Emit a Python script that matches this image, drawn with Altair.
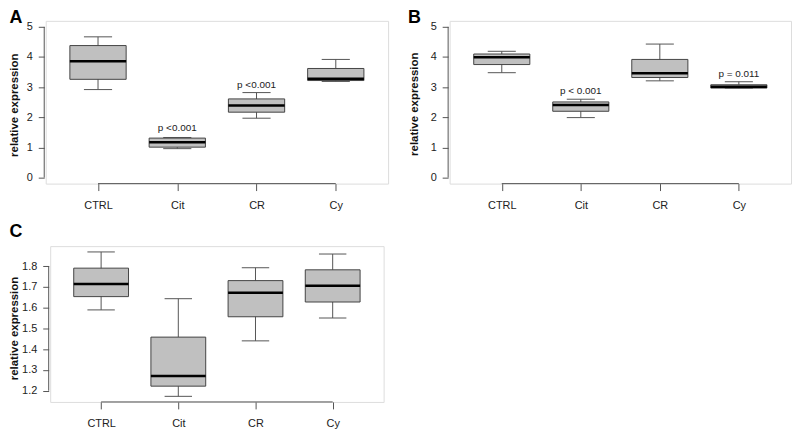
import altair as alt
import pandas as pd

categories = ["CTRL", "Cit", "CR", "Cy"]
positions = [1, 2, 3, 4]

# Panel A
a_low = [2.92, 0.96, 1.97, 3.19]
a_q1 = [3.26, 1.01, 2.17, 3.22]
a_med = [3.86, 1.17, 2.39, 3.28]
a_q3 = [4.38, 1.31, 2.61, 3.62]
a_high = [4.67, 1.33, 2.82, 3.92]
a_p_pos = [2, 3]
a_p_y = [1.64, 3.08]
a_p_text = ["p <0.001", "p <0.001"]
a_ticks = [0, 1, 2, 3, 4, 5]

# Panel B
b_low = [3.48, 1.99, 3.21, 2.97]
b_q1 = [3.75, 2.20, 3.32, 2.97]
b_med = [3.99, 2.41, 3.46, 3.01]
b_q3 = [4.10, 2.51, 3.92, 3.08]
b_high = [4.19, 2.60, 4.43, 3.18]
b_p_pos = [2, 4]
b_p_y = [2.87, 3.45]
b_p_text = ["p < 0.001", "p = 0.011"]
b_ticks = [0, 1, 2, 3, 4, 5]

# Panel C
c_low = [1.589, 1.173, 1.440, 1.550]
c_q1 = [1.653, 1.222, 1.556, 1.627]
c_med = [1.714, 1.271, 1.672, 1.705]
c_q3 = [1.790, 1.458, 1.730, 1.782]
c_high = [1.868, 1.643, 1.792, 1.858]
c_p_pos = []
c_p_y = []
c_p_text = []
c_ticks = [1.2, 1.3, 1.4, 1.5, 1.6, 1.7, 1.8]

FONT = "Liberation Sans"
X_DOMAIN = [0.34, 4.66]
BOX_HALF = 0.355
CAP_HALF = 0.1775
label_expr = "['', " + ", ".join("'%s'" % c for c in categories) + "][datum.value]"


def panel(low, q1, med, q3, high, p_pos, p_y, p_text, ticks, ydomain, yfmt,
          width, height, letter, letter_x, letter_y, title_x, title_y, yoff):
    df = pd.DataFrame({"cat": categories, "pos": positions, "low": low, "q1": q1,
                       "med": med, "q3": q3, "high": high})
    xs = alt.Scale(domain=X_DOMAIN, nice=False, zero=False)
    ys = alt.Scale(domain=ydomain, nice=False, zero=False)
    x_axis = alt.Axis(values=positions, labelExpr=label_expr, tickSize=7, domain=False,
                      grid=False, title=None, labelPadding=9, labelFontSize=11,
                      labelColor="#222", tickColor="#555", labelFont=FONT)
    y_axis = alt.Axis(values=ticks, format=yfmt, offset=yoff, tickSize=6, labelPadding=6,
                      domain=False, grid=False, title=None, labelFontSize=11,
                      labelColor="#222", tickColor="#555", labelFont=FONT)

    def X(f):
        return alt.X(f, type="quantitative", scale=xs, axis=x_axis)

    def Y(f):
        return alt.Y(f, type="quantitative", scale=ys, axis=y_axis)

    base = alt.Chart(df).transform_calculate(
        bl="datum.pos - %f" % BOX_HALF, br="datum.pos + %f" % BOX_HALF,
        cl="datum.pos - %f" % CAP_HALF, cr="datum.pos + %f" % CAP_HALF)

    whisk = base.mark_rule(color="#555", strokeWidth=1).encode(
        x=X("pos"), y=Y("low"), y2="high")
    cap_lo = base.mark_rule(color="#555", strokeWidth=1).encode(
        x=X("cl"), x2="cr", y=Y("low"))
    cap_hi = base.mark_rule(color="#555", strokeWidth=1).encode(
        x=X("cl"), x2="cr", y=Y("high"))
    box = base.mark_rect(fill="#c0c0c0", stroke="#444", strokeWidth=1).encode(
        x=X("bl"), x2="br", y=Y("q1"), y2="q3")
    median = base.mark_rule(color="#000", strokeWidth=2.5).encode(
        x=X("bl"), x2="br", y=Y("med"))

    layers = [whisk, cap_lo, cap_hi, box, median]

    if p_text:
        pdf = pd.DataFrame({"pos": p_pos, "py": p_y, "txt": p_text})
        layers.append(alt.Chart(pdf).mark_text(font=FONT, fontSize=10, color="#222",
                                               baseline="middle", align="center").encode(
            x=X("pos"), y=Y("py"), text="txt:N"))

    yl = pd.DataFrame({"y0": [ticks[0]], "y1": [ticks[-1]]})
    layers.append(alt.Chart(yl).mark_rule(color="#555", strokeWidth=1).encode(
        x=alt.value(-yoff), y=Y("y0"), y2="y1"))
    xl = pd.DataFrame({"x0": [positions[0]], "x1": [positions[-1]]})
    layers.append(alt.Chart(xl).mark_rule(color="#555", strokeWidth=1).encode(
        x=X("x0"), x2="x1", y=alt.value(height)))

    one = pd.DataFrame({"k": [0]})
    layers.append(alt.Chart(one).mark_text(
        text="relative expression", font=FONT, fontSize=11.5, fontWeight="bold",
        angle=270, align="center", baseline="middle", color="#111").encode(
        x=alt.value(title_x), y=alt.value(title_y)))
    layers.append(alt.Chart(one).mark_text(
        text=letter, font=FONT, fontSize=18, fontWeight="bold", align="left",
        baseline="alphabetic", color="#000").encode(
        x=alt.value(letter_x), y=alt.value(letter_y)))

    return alt.layer(*layers).properties(width=width, height=height)


A = panel(a_low, a_q1, a_med, a_q3, a_high, a_p_pos, a_p_y, a_p_text, a_ticks,
          [-0.2, 5.2], "d", 345, 164, "A", -36.5, 1.8, -30.75, 85, 1.5)
B = panel(b_low, b_q1, b_med, b_q3, b_high, b_p_pos, b_p_y, b_p_text, b_ticks,
          [-0.2, 5.2], "d", 344, 164, "B", -42, 1.8, -35.3, 84, 1.5)
C = panel(c_low, c_q1, c_med, c_q3, c_high, c_p_pos, c_p_y, c_p_text, c_ticks,
          [1.146, 1.896], ".1f", 336, 157, "C", -40.9, -9, -35.25, 83, 1.5)

chart = alt.concat(A, B, C, columns=2, spacing={"row": 63, "column": 62},
                   bounds="flush", center={"row": False, "column": True}).properties(
    padding={"left": 0, "top": -1.66, "right": 0, "bottom": 0}
).configure_view(stroke="#777", strokeWidth=1).configure(background="white")

chart.save("out.html", embed_options={"renderer": "svg", "actions": False})
